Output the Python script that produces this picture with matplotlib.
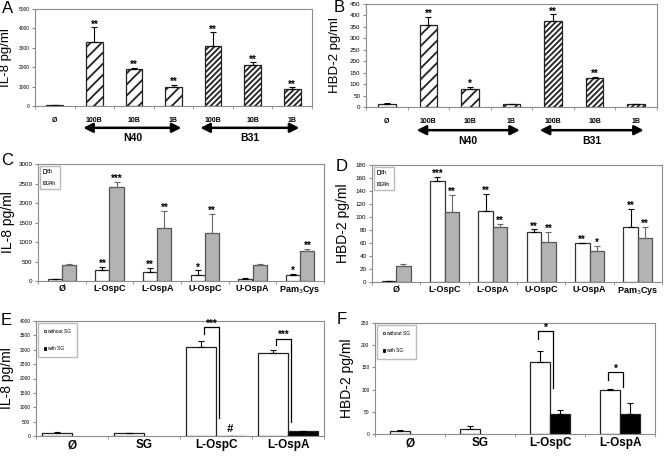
import numpy as np
import matplotlib
matplotlib.use("Agg")
import matplotlib.pyplot as plt
from matplotlib.patches import Patch

plt.rcParams['font.family'] = ['Liberation Sans', 'DejaVu Sans']
plt.rcParams['hatch.linewidth'] = 1.3

# =========================
# DATA
# =========================
# A / B : whole spirochetes, N40 and B31 at 3 doses
dose_labels = ['Ø', '100B', '10B', '1B', '100B', '10B', '1B']
dose_hatch = ['', '///', '///', '///', '//////', '//////', '//////']
il8_dose = [30, 3300, 1900, 980, 3100, 2100, 900]
il8_dose_err = [10, 750, 60, 120, 700, 150, 60]
il8_dose_sig = ['', '**', '**', '**', '**', '**', '**']
hbd_dose = [15, 360, 78, 12, 375, 125, 12]
hbd_dose_err = [3, 35, 10, 3, 30, 8, 3]
hbd_dose_sig = ['', '**', '*', '', '**', '**', '']
strain_names = ['N40', 'B31']

# C / D : lipoproteins, 6h vs 24h
lipo_labels = ['Ø', 'L-OspC', 'L-OspA', 'U-OspC', 'U-OspA', 'Pam$_3$Cys']
il8_6h = [40, 270, 230, 150, 40, 150]
il8_6h_err = [10, 100, 110, 120, 30, 30]
il8_6h_sig = ['', '**', '**', '*', '', '*']
il8_24h = [410, 2410, 1350, 1240, 420, 770]
il8_24h_err = [20, 130, 450, 480, 20, 60]
il8_24h_sig = ['', '***', '**', '**', '', '**']
hbd_6h = [1, 156, 110, 77, 60, 84]
hbd_6h_err = [1, 6, 26, 4, 0.5, 29]
hbd_6h_sig = ['', '***', '**', '**', '**', '**']
hbd_24h = [25, 108, 85, 61, 48, 67]
hbd_24h_err = [2, 26, 4, 16, 7, 18]
hbd_24h_sig = ['', '**', '**', '**', '*', '**']

# E / F : with / without salivary gland extract
sg_labels = ['Ø', 'SG', 'L-OspC', 'L-OspA']
il8_noSG = [120, 90, 3080, 2900]
il8_noSG_err = [10, 5, 240, 90]
il8_SG = [np.nan, np.nan, 5, 170]
il8_SG_err = [0, 0, 0, 10]
hbd_noSG = [7, 12, 162, 98]
hbd_noSG_err = [2, 7, 26, 3]
hbd_SG = [np.nan, np.nan, 46, 45]
hbd_SG_err = [0, 0, 9, 24]
# significance brackets: (category, left leg bottom, top, right leg bottom, stars)
il8_brackets = [(2, 3560, 3790, 610, '***'), (3, 3160, 3390, 500, '***')]
hbd_brackets = [(2, 214, 231, 103, '*'), (3, 122, 139, 106, '*')]

GRAY = '#b3b3b3'
FRAME = '#8c8c8c'


def style_axes(ax, ncat, yticks, tick_fs, labels, label_fs, label_pad):
    for s in ax.spines.values():
        s.set_color(FRAME)
        s.set_linewidth(0.8)
    ax.set_xlim(-0.5, ncat - 0.5)
    ax.set_ylim(yticks[0], yticks[-1])
    ax.set_yticks(yticks)
    ax.tick_params(axis='y', labelsize=tick_fs, length=2, color=FRAME, pad=2)
    ax.set_xticks(range(ncat))
    ax.set_xticklabels(labels, fontsize=label_fs, fontweight='bold')
    ax.tick_params(axis='x', length=0, pad=label_pad)
    ax.set_xticks(np.arange(ncat + 1) - 0.5, minor=True)
    ax.tick_params(axis='x', which='minor', length=2, color=FRAME)


def bars(ax, x, vals, errs, width, face, ecol='#222222', errcol='black', hatch=None, sig=None, sig_fs=7):
    vals = np.asarray(vals, dtype=float)
    errs = np.asarray(errs, dtype=float)
    ok = ~np.isnan(vals)
    x = np.asarray(x, dtype=float)
    hatches = hatch if hatch is not None else [''] * len(vals)
    for xi, v, h in zip(x[ok], vals[ok], np.array(hatches)[ok]):
        ax.bar(xi, v, width, color=face, edgecolor=ecol, linewidth=0.9, hatch=h)
    ax.errorbar(x[ok], vals[ok], yerr=[np.zeros(ok.sum()), errs[ok]], fmt='none',
                ecolor=errcol, elinewidth=0.8, capsize=2, capthick=0.8)
    if sig:
        for xi, v, e, s in zip(x, vals, errs, sig):
            if s and not np.isnan(v):
                ax.annotate(s, (xi, v + e), xytext=(0, -1.5), textcoords='offset points',
                            ha='center', va='bottom', fontsize=sig_fs, fontweight='bold')


fig = plt.figure(figsize=(6.64, 4.57), dpi=100)

axA = fig.add_axes([35/664, 1-106/457, 277/664, 97/457])
axB = fig.add_axes([366/664, 1-107/457, 291/664, 103/457])
axC = fig.add_axes([38/664, 1-281/457, 286/664, 117/457])
axD = fig.add_axes([372/664, 1-282/457, 290/664, 117/457])
axE = fig.add_axes([36/664, 1-436/457, 288/664, 115/457])
axF = fig.add_axes([375/664, 1-434/457, 280/664, 111/457])

# =========================
# A and B
# =========================
for ax, vals, errs, sig, yt, tfs, ylab, lx in [
        (axA, il8_dose, il8_dose_err, il8_dose_sig, np.arange(0, 5001, 1000), 3.5, 'IL-8 pg/ml', -0.083),
        (axB, hbd_dose, hbd_dose_err, hbd_dose_sig, np.arange(0, 451, 50), 4.5, 'HBD-2 pg/ml', -0.086)]:
    x = np.arange(len(vals))
    bars(ax, x, vals, errs, 0.42, 'white', hatch=dose_hatch, sig=sig)
    style_axes(ax, len(vals), yt, tfs, dose_labels, 5, 8)
    ax.set_ylabel(ylab, fontsize=9.5)
    ax.yaxis.set_label_coords(lx, 0.5)
    tr = ax.get_xaxis_transform()
    for (x0, x1), name in zip([(0.72, 3.2), (3.68, 6.18)], strain_names):
        ax.annotate('', xy=(x1, -0.225), xytext=(x0, -0.225), xycoords=tr,
                    arrowprops=dict(arrowstyle='<|-|>,head_length=0.55,head_width=0.28',
                                    color='black', lw=1.8, shrinkA=0, shrinkB=0),
                    annotation_clip=False)
        ax.text((x0 + x1) / 2, -0.33, name, transform=tr, ha='center', va='center',
                fontsize=7.5, fontweight='bold')

# =========================
# C and D
# =========================
for ax, v6, e6, s6, v24, e24, s24, yt, ylab, lx, pad in [
        (axC, il8_6h, il8_6h_err, il8_6h_sig, il8_24h, il8_24h_err, il8_24h_sig,
         np.arange(0, 3001, 500), 'IL-8 pg/ml', -0.08, 2.5),
        (axD, hbd_6h, hbd_6h_err, hbd_6h_sig, hbd_24h, hbd_24h_err, hbd_24h_sig,
         np.arange(0, 181, 20), 'HBD-2 pg/ml', -0.076, 2)]:
    x = np.arange(len(v6))
    bars(ax, x - 0.15, v6, e6, 0.3, 'white', ecol='#333333', sig=s6)
    bars(ax, x + 0.15, v24, e24, 0.3, GRAY, ecol='#555555', errcol='#666666', sig=s24)
    style_axes(ax, len(v6), yt, 4.5, lipo_labels, 6.5, pad)
    ax.set_ylabel(ylab, fontsize=10)
    ax.yaxis.set_label_coords(lx, 0.5)
    ax.legend(handles=[Patch(facecolor='white', edgecolor='#333333', lw=0.6),
                       Patch(facecolor=GRAY, edgecolor='#555555', lw=0.6)],
              labels=['6h', '24h'], loc='upper left', fontsize=4, frameon=True,
              fancybox=False, edgecolor='#aaaaaa', borderaxespad=0.3, borderpad=0.6,
              handlelength=0.6, handleheight=0.6, handletextpad=0.15, labelspacing=1.2)

# =========================
# E and F
# =========================
for ax, v0, e0, v1, e1, brk, yt, ylab, lx, w, star_fs in [
        (axE, il8_noSG, il8_noSG_err, il8_SG, il8_SG_err, il8_brackets,
         np.arange(0, 4001, 500), 'IL-8 pg/ml', -0.076, 0.42, 7),
        (axF, hbd_noSG, hbd_noSG_err, hbd_SG, hbd_SG_err, hbd_brackets,
         np.arange(0, 251, 50), 'HBD-2 pg/ml', -0.075, 0.28, 7.5)]:
    x = np.arange(len(v0))
    bars(ax, x - w / 2, v0, e0, w, 'white')
    bars(ax, x + w / 2, v1, e1, w, 'black')
    style_axes(ax, len(v0), yt, 3.5, sg_labels, 8.5, 2.5)
    ax.set_ylabel(ylab, fontsize=10)
    ax.yaxis.set_label_coords(lx, 0.5)
    for cat, yl, ytop, yr, s in brk:
        xl, xr = cat - 0.17, cat + 0.04
        ax.plot([xl, xl, xr, xr], [yl, ytop, ytop, yr], color='black', lw=0.9)
        ax.annotate(s, ((xl + xr) / 2, ytop), xytext=(0, -1), textcoords='offset points',
                    ha='center', va='bottom', fontsize=star_fs, fontweight='bold')
    ax.legend(handles=[Patch(facecolor='white', edgecolor='#333333', lw=0.6),
                       Patch(facecolor='black', edgecolor='black', lw=0.6)],
              labels=['without SG', 'with SG'], loc='upper left', fontsize=3.5,
              frameon=True, fancybox=False, edgecolor='#aaaaaa', borderaxespad=0.4,
              borderpad=1.2, handlelength=0.5, handleheight=0.5, handletextpad=0.1,
              labelspacing=2.6)

axE.text(2 + 0.19, 60, '#', ha='center', va='bottom', fontsize=8, fontweight='bold',
         fontstyle='italic')

# panel letters
for lab, (px, py) in zip('ABCDEF', [(2, 1), (334, 0), (1, 153), (336, 159), (1, 313), (337, 312)]):
    fig.text(px / 664, 1 - py / 457, lab, fontsize=12, ha='left', va='top')

fig.savefig('out.png', dpi=100)
